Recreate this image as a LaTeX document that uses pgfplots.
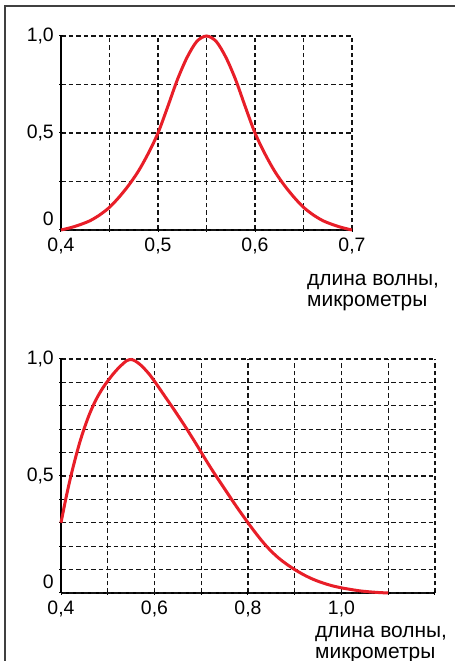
\documentclass[border=0pt]{standalone}
\usepackage{pgfplots}
\pgfplotsset{compat=1.18}
\usepackage{fontspec}
\setmainfont{Liberation Sans}
\definecolor{curve}{RGB}{232,30,40}
\definecolor{gridc}{RGB}{20,20,20}
\begin{document}
\begin{tikzpicture}
\useasboundingbox (0bp,0bp) rectangle (455bp,661bp);
\draw[line width=1.4bp, black!75] (5bp,0bp) -- (5bp,655bp) -- (455bp,655bp);
\pgfplotsset{
 mystyle/.style={
  scale only axis,
  axis x line=bottom, axis y line=left,
  axis line style={-, line width=1.3bp, black},
  grid=major,
  major grid style={dash pattern=on 4.5bp off 3bp, line width=1.1bp, gridc},
  tick style={black, line width=1bp},
  major tick length=4bp,
  tick align=center,
  ticklabel style={font=\fontsize{19.5}{22}\selectfont, inner sep=0pt},
  xticklabel style={yshift=-6bp},
  yticklabel style={xshift=-5bp},
  clip=false,
 }
}
\begin{axis}[mystyle, at={(61bp,431bp)}, anchor=south west, width=291bp, height=194bp,
  xmin=0.4, xmax=0.7, ymin=0, ymax=1,
  xtick={0.4,0.45,0.5,0.55,0.6,0.65,0.7},
  xticklabels={{0,4},,{0,5},,{0,6},,{0,7}},
  ytick={0,0.25,0.5,0.75,1},
  yticklabels={,,{0,5},,{1,0}},
  extra y ticks={0}, extra y tick labels={0},
  extra y tick style={yticklabel style={yshift=11bp}}]
\addplot[curve, line width=3bp, smooth] coordinates {
(0.40,0) (0.41,0.012) (0.42,0.028) (0.43,0.048) (0.44,0.078) (0.45,0.117)
(0.46,0.17) (0.47,0.232) (0.48,0.305) (0.49,0.395) (0.50,0.50) (0.51,0.635)
(0.52,0.775) (0.53,0.89) (0.54,0.972) (0.55,1.0) (0.56,0.972) (0.57,0.89)
(0.58,0.775) (0.59,0.635) (0.60,0.50) (0.61,0.395) (0.62,0.305) (0.63,0.232)
(0.64,0.17) (0.65,0.117) (0.66,0.078) (0.67,0.048) (0.68,0.028) (0.69,0.012) (0.70,0)
};
\end{axis}
\node[anchor=base west, font=\fontsize{21}{24}\selectfont, inner sep=0pt] at (307bp,375bp) {длина волны,};
\node[anchor=base west, font=\fontsize{21}{24}\selectfont, inner sep=0pt] at (307bp,354bp) {микрометры};

\begin{axis}[mystyle, at={(61bp,68bp)}, anchor=south west, width=374bp, height=234bp,
  xmin=0.4, xmax=1.2, ymin=0, ymax=1,
  xtick={0.4,0.5,0.6,0.7,0.8,0.9,1.0,1.1,1.2},
  xticklabels={{0,4},,{0,6},,{0,8},,{1,0},,},
  ytick={0,0.1,0.2,0.3,0.4,0.5,0.6,0.7,0.8,0.9,1},
  yticklabels={,,,,,{0,5},,,,,{1,0}},
  extra y ticks={0}, extra y tick labels={0},
  extra y tick style={yticklabel style={yshift=11bp}}]
\addplot[curve, line width=3bp, smooth] coordinates {
(0.40,0.30) (0.41,0.40) (0.42,0.49) (0.43,0.57) (0.44,0.643) (0.45,0.705)
(0.46,0.76) (0.47,0.806) (0.48,0.845) (0.49,0.878) (0.50,0.906) (0.51,0.932)
(0.52,0.955) (0.53,0.975) (0.54,0.992) (0.55,0.998) (0.56,0.99) (0.57,0.975)
(0.58,0.955) (0.59,0.932) (0.60,0.905) (0.61,0.876) (0.62,0.847) (0.63,0.818)
(0.64,0.789) (0.65,0.759) (0.66,0.729) (0.67,0.698) (0.68,0.666) (0.69,0.634)
(0.70,0.601) (0.71,0.568) (0.72,0.536) (0.73,0.505) (0.74,0.475) (0.75,0.445)
(0.76,0.415) (0.77,0.385) (0.78,0.356) (0.79,0.328) (0.80,0.30) (0.81,0.273)
(0.82,0.247) (0.83,0.222) (0.84,0.199) (0.85,0.178) (0.86,0.159) (0.87,0.142)
(0.88,0.127) (0.89,0.113) (0.90,0.10) (0.92,0.077) (0.94,0.058) (0.96,0.043)
(0.98,0.031) (1.00,0.022) (1.02,0.015) (1.04,0.009) (1.06,0.005) (1.08,0.002)
(1.10,0.0)
};
\end{axis}
\node[anchor=base west, font=\fontsize{21}{24}\selectfont, inner sep=0pt] at (315bp,24bp) {длина волны,};
\node[anchor=base west, font=\fontsize{21}{24}\selectfont, inner sep=0pt] at (315bp,3bp) {микрометры};
\end{tikzpicture}
\end{document}
